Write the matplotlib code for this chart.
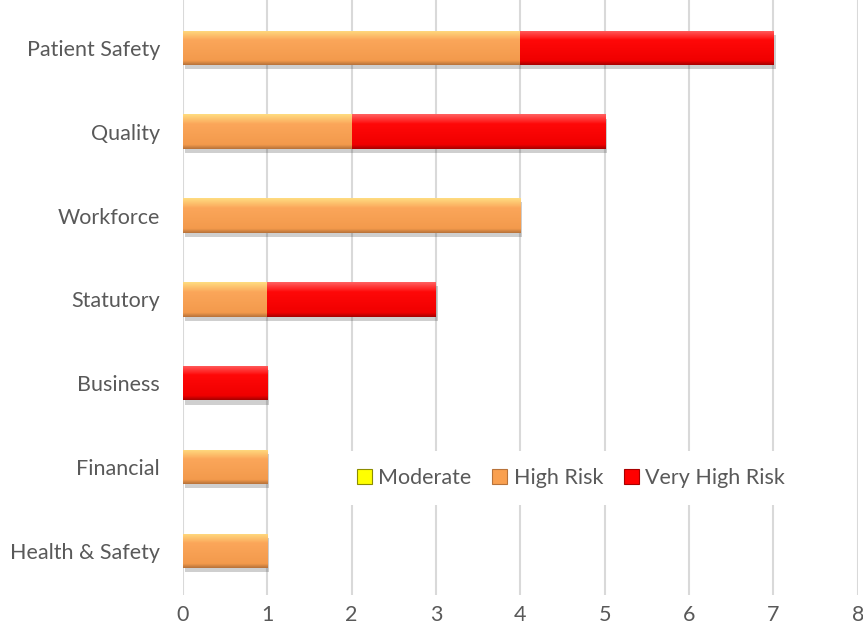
import numpy as np
import matplotlib.pyplot as plt
import matplotlib.patheffects as pe
from matplotlib.patches import Patch
from matplotlib.colors import LinearSegmentedColormap

plt.rcParams['font.family'] = ['Lato', 'DejaVu Sans']

# risk counts per category (top to bottom)
categories = ["Patient Safety", "Quality", "Workforce", "Statutory",
              "Business", "Financial", "Health & Safety"]
moderate = [0, 0, 0, 0, 0, 0, 0]
high_risk = [4, 2, 4, 1, 0, 1, 1]
very_high = [3, 3, 0, 2, 1, 0, 0]

series = [
    ("Moderate", moderate, "#FFFF00", ["#8C8C00", "#E6E600", "#FFFF33", "#FFFF99"]),
    ("High Risk", high_risk, "#F9A050", ["#B8733A", "#F39A4C", "#FBA65A", "#FFDC80"]),
    ("Very High Risk", very_high, "#FF0000", ["#A80000", "#F00000", "#FF0808", "#FF6060"]),
]

fig, ax = plt.subplots(figsize=(8.63, 6.36), dpi=100)
fig.subplots_adjust(left=0.212, right=0.994, top=1.0, bottom=0.0645)

y = np.arange(len(categories))[::-1]
left = np.zeros(len(categories))
for name, vals, base, stops in series:
    vals = np.array(vals, dtype=float)
    bars = ax.barh(y, vals, left=left, height=0.41, color=base, zorder=3,
                   edgecolor="none")
    cmap = LinearSegmentedColormap.from_list(
        name, list(zip([0.0, 0.12, 0.72, 1.0], stops)))
    grad = np.linspace(0, 1, 64).reshape(-1, 1)
    for b in bars:
        if b.get_width() <= 0:
            continue
        b.set_path_effects([pe.SimplePatchShadow(offset=(1.5, -3), alpha=0.25,
                                                 shadow_rgbFace="#404040"),
                            pe.Normal()])
        x0, y0 = b.get_x(), b.get_y()
        im = ax.imshow(grad, cmap=cmap, aspect="auto", origin="lower",
                       extent=(x0, x0 + b.get_width(), y0, y0 + b.get_height()),
                       zorder=4, interpolation="bilinear")
        im.set_clip_path(b)
    left += vals

ax.set_xlim(0, 8)
ax.set_ylim(-0.525, 6.57)
ax.set_xticks(range(0, 9))
ax.set_yticks(y)
ax.set_yticklabels(categories)
ax.tick_params(axis="both", length=0, colors="#595959", labelsize=15.5)
ax.tick_params(axis="y", pad=16.5)
ax.tick_params(axis="x", pad=7)
ax.grid(axis="x", color="#D9D9D9", linewidth=1.5, zorder=0)
ax.set_axisbelow(True)
for s in ax.spines.values():
    s.set_visible(False)

handles = [Patch(facecolor=base, edgecolor=stops[0], linewidth=0.8, label=name)
           for name, vals, base, stops in series]
leg = ax.legend(handles=handles, loc="center", bbox_to_anchor=(0.575, 0.197),
                ncol=3, frameon=True, fontsize=15.5, handlelength=0.7,
                handleheight=0.7, handletextpad=0.3, columnspacing=0.95,
                borderpad=0.8, fancybox=False)
leg.get_frame().set_edgecolor("none")
leg.get_frame().set_facecolor("white")
leg.get_frame().set_alpha(1)
leg.set_zorder(5)
for t in leg.get_texts():
    t.set_color("#595959")

fig.savefig("out.png", dpi=100, facecolor="white")
